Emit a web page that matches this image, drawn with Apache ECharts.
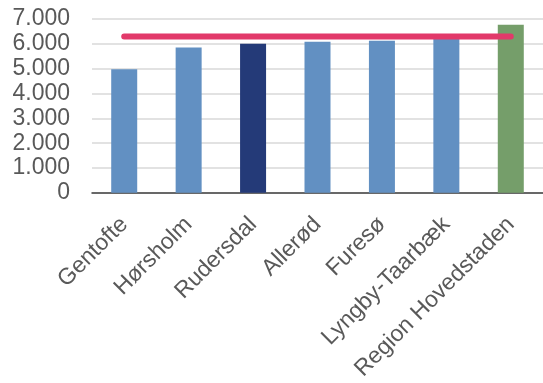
<!DOCTYPE html>
<html>
<head>
<meta charset="utf-8">
<script src="https://cdn.jsdelivr.net/npm/echarts@6/dist/echarts.min.js"></script>
<style>
html,body{margin:0;padding:0;background:#fff;}
#chart{width:543px;height:383px;}
</style>
</head>
<body>
<div id="chart"></div>
<script>
const categories = ["Gentofte", "Hørsholm", "Rudersdal", "Allerød", "Furesø", "Lyngby-Taarbæk", "Region Hovedstaden"];
const values = [4975, 5850, 6005, 6085, 6125, 6230, 6765];
const referenceLine = [6300, 6300, 6300, 6300, 6300, 6300, 6300];
const yTicks = [0, 1000, 2000, 3000, 4000, 5000, 6000, 7000];

const FONT = "'Liberation Sans', Arial, sans-serif";
const chart = echarts.init(document.getElementById('chart'), null, {renderer: 'canvas'});

function barColor(i) {
  if (categories[i] === 'Rudersdal') return '#243A78';
  if (categories[i] === 'Region Hovedstaden') return '#759E6A';
  return '#6290C2';
}

chart.setOption({
  animation: false,
  grid: {left: 92, right: -2, top: 19, bottom: 188, containLabel: false},
  xAxis: {
    type: 'category',
    data: categories,
    axisLine: {show: true, lineStyle: {color: '#404040', width: 1.5}},
    axisTick: {show: false},
    axisLabel: {
      rotate: 45,
      interval: 0,
      margin: 28,
      color: '#595959',
      fontSize: 23,
      fontFamily: FONT
    }
  },
  yAxis: {
    type: 'value',
    min: yTicks[0],
    max: yTicks[yTicks.length - 1],
    interval: 1000,
    axisLine: {show: false},
    axisTick: {show: false},
    splitLine: {lineStyle: {color: '#D9D9D9', width: 1.5}},
    axisLabel: {
      margin: 22,
      color: '#595959',
      fontSize: 23,
      fontFamily: FONT,
      formatter: v => v === 0 ? '0' : String(v).replace(/\B(?=(\d{3})+(?!\d))/g, '.')
    }
  },
  series: [
    {
      type: 'bar',
      data: values.map((v, i) => ({value: v, itemStyle: {color: barColor(i)}})),
      barWidth: 26,
      z: 2
    },
    {
      type: 'line',
      data: referenceLine,
      showSymbol: false,
      symbol: 'none',
      lineStyle: {color: '#E2396A', width: 6, cap: 'round'},
      z: 3
    }
  ]
});
</script>
</body>
</html>
